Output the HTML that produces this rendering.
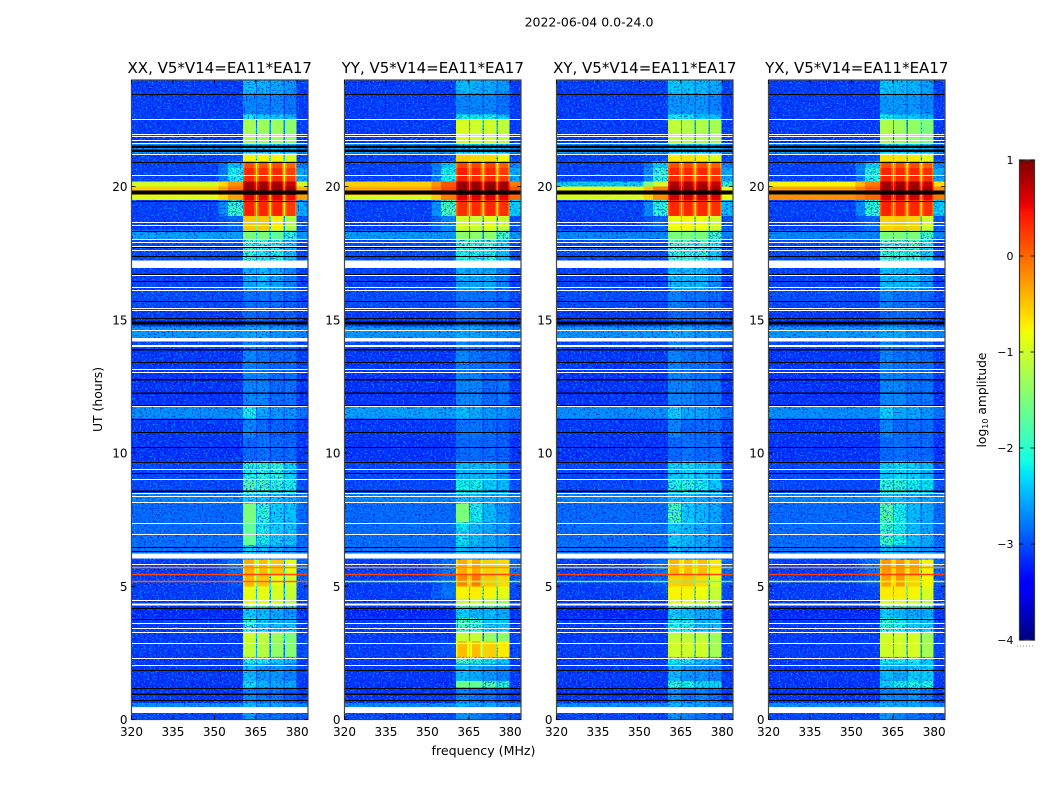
<!DOCTYPE html>
<html lang="en">
<head>
<meta charset="utf-8">
<title>2022-06-04 amplitude waterfall</title>
<style>
html,body{margin:0;padding:0;background:#fff;}
svg{display:block;}
text{font-family:"DejaVu Sans","Liberation Sans",sans-serif;fill:#000;}
</style>
</head>
<body>
<svg id="figure" xmlns="http://www.w3.org/2000/svg" width="1050" height="800" viewBox="0 0 1050 800">
  <defs>
    <filter id="speckle-light" x="0" y="0" width="1" height="1" color-interpolation-filters="sRGB">
      <feTurbulence type="fractalNoise" baseFrequency="0.5 0.62" numOctaves="2" seed="4"/>
      <feColorMatrix type="matrix" values="0 0 0 0 0  0 0 0 0 0.62  0 0 0 0 1  10 0 0 0 -5.5"/>
    </filter>
    <filter id="speckle-dark" x="0" y="0" width="1" height="1" color-interpolation-filters="sRGB">
      <feTurbulence type="fractalNoise" baseFrequency="0.5 0.62" numOctaves="2" seed="11"/>
      <feColorMatrix type="matrix" values="0 0 0 0 0  0 0 0 0 0  0 0 0 0 0.85  10 0 0 0 -5.7"/>
    </filter>
  </defs>
  <text x="589" y="26.5" text-anchor="middle" font-size="12.5">2022-06-04 0.0-24.0</text>
  <text x="483.5" y="755" text-anchor="middle" font-size="12.6">frequency (MHz)</text>
  <text transform="translate(102,399.5) rotate(-90)" text-anchor="middle" font-size="12.4">UT (hours)</text>
  <text transform="translate(986,400) rotate(-90)" text-anchor="middle" font-size="12.3">log<tspan font-size="8" dy="2">10</tspan><tspan dy="-2"> amplitude</tspan></text>
  <g id="panels"></g>
  <g id="colorbar"></g>
</svg>
<script>
// Time-row edges in UT hours, shared by all correlations
const rowEdges = [0,.46,.62,1.2,1.45,2.1,2.35,2.95,3.3,3.8,4.25,4.55,5,5.4,6,6.25,6.55,7.4,8.1,8.5,9,9.7,10.6,11.3,11.75,13,13.9,14.2,14.75,15.5,16.1,16.95,17.7,18,18.35,18.9,19.5,19.68,19.85,20,20.2,20.7,20.95,21.25,21.6,22.5,22.7,23.5,24];
// Frequency edges in MHz: background, shoulder ramp, four spectral windows (edge, centre, edge) with gaps, right edge
const freqEdges = [320,351.5,355,360.4,361,364.4,365,365.5,366.1,369.3,369.9,370.5,371.1,374.5,375.1,375.6,376.2,379.2,379.8,383.9];
// Each row: background, shoulder, window 1-4, right edge (log10 amplitude)
const xxLevels = [
[-2.9,-2.9,-2.3,-2.5,-2.5,-2.6,-2.8],[-2.35,-2.35,-2.1,-2.2,-2.2,-2.3,-2.4],[-3.05,-3.05,-2.4,-2.5,-2.5,-2.7,-3],[-3.1,-3.1,-1.95,-2.1,-2.2,-2.2,-3.1],
[-3.05,-3.05,-2.1,-2.3,-2.3,-2.4,-3],[-3,-3,-1.85,-1.9,-2,-2.1,-3],[-3,-3,-1.1,-1.15,-1.35,-1.45,-2.9],[-3,-3,-1,-1.1,-1.3,-1.5,-2.9],
[-3,-3,-1.8,-2,-2.1,-2.1,-3],[-3.2,-3.2,-2,-2.1,-2.2,-2.3,-3.1],[-3,-3,-.85,-.9,-1,-1.2,-3],[-3,-2.9,-.85,-.85,-.95,-1.05,-2.9],
[-3,-2.8,-.4,-.5,-.85,-1,-2.8],[-3,-2.5,-.35,-.45,-.5,-.85,-2.6],[-2.7,-2.7,-2.4,-2.4,-2.5,-2.5,-2.7],[-2.5,-2.5,-2,-2.1,-2.2,-2.3,-2.5],
[-2.55,-2.55,-1.6,-1.9,-2,-2.05,-2.6],[-2.6,-2.6,-1.5,-1.8,-2,-2.05,-2.6],[-2.4,-2.4,-2,-2.1,-2.1,-2.2,-2.4],[-2.9,-2.9,-1.65,-1.7,-1.8,-1.9,-2.8],
[-2.9,-2.9,-1.85,-1.8,-1.8,-2,-2.9],[-3.1,-3.1,-2.6,-2.5,-2.6,-2.6,-3.1],[-3.05,-3.05,-2.4,-2.6,-2.7,-2.7,-3],[-2.35,-2.35,-1.9,-2.2,-2.3,-2.3,-2.5],
[-3.1,-3.1,-2.4,-2.4,-2.6,-2.5,-3.1],[-3.05,-3.05,-2.4,-2.5,-2.6,-2.6,-3],[-2.9,-2.9,-2.4,-2.5,-2.6,-2.6,-2.9],[-2.3,-2.3,-2.2,-2.2,-2.3,-2.3,-2.4],
[-3,-3,-2.6,-2.6,-2.7,-2.7,-3],[-2.85,-2.85,-2.5,-2.5,-2.5,-2.6,-2.9],[-2.95,-2.95,-2.2,-2.1,-2.2,-2.4,-3],[-2.85,-2.85,-1.8,-1.9,-1.9,-2.1,-2.9],
[-2.85,-2.85,-1.8,-1.8,-1.8,-2,-2.9],[-2.25,-2.25,-1.5,-1.5,-1.6,-1.8,-2.3],[-3,-2.6,-.5,-.5,-.7,-1.2,-2.8],[-2.95,-1.75,.38,.36,.38,.25,-2.2],
[-.9,-.3,.55,.55,.55,.5,-.3],[-.7,-.2,.9,.9,.9,.85,-.4],[-.55,0,.9,.9,.9,.85,-.4],[-1,-.2,.85,.85,.85,.7,-1],
[-2.95,-1.9,.35,.33,.35,.22,-2.2],[-2.95,-2.1,.15,.12,.15,0,-2.5],[-2.95,-2.8,-.75,-.75,-.75,-.95,-2.9],[-2.3,-2.3,-2,-2,-2,-2.1,-2.4],
[-3,-3,-1.25,-1.3,-1.3,-1.4,-3],[-3,-3,-1.9,-2,-2,-2.1,-3],[-3,-3,-2.4,-2.4,-2.4,-2.5,-3],[-3,-3,-2.1,-2.15,-2.2,-2.3,-3]];
const yyLevels = [
[-2.9,-2.9,-2.3,-2.4,-2.5,-2.6,-2.8],[-2.35,-2.35,-2.1,-2.2,-2.2,-2.3,-2.4],[-3.05,-3.05,-2.4,-2.5,-2.5,-2.7,-3],[-3.1,-3.1,-1.55,-1.6,-1.65,-1.8,-3.1],
[-3.05,-3.05,-2.1,-2.2,-2.3,-2.4,-3],[-3,-3,-1.7,-1.8,-1.9,-2,-3],[-3,-2.8,-.45,-.45,-.55,-.7,-2.9],[-3,-3,-1.05,-1.05,-1.35,-1.4,-2.9],
[-3,-3,-1.7,-1.8,-2,-2,-3],[-3.2,-3.2,-2,-2.1,-2.1,-2.2,-3.1],[-3,-2.9,-1.1,-1.1,-1.2,-1.3,-3],[-3,-2.5,-.75,-.7,-.75,-.85,-2.9],
[-3,-2.6,-.15,-.1,-.5,-.6,-2.8],[-3,-2.5,-.35,-.35,-.55,-.6,-2.6],[-2.7,-2.7,-2.4,-2.4,-2.5,-2.5,-2.7],[-2.5,-2.5,-2.1,-2.2,-2.2,-2.3,-2.5],
[-2.55,-2.55,-1.95,-2.1,-2.2,-2.3,-2.6],[-2.6,-2.6,-1.5,-1.9,-2.1,-2.3,-2.6],[-2.4,-2.4,-2.1,-2.1,-2.2,-2.2,-2.4],[-2.9,-2.9,-1.9,-1.9,-2,-2.1,-2.8],
[-2.9,-2.9,-2.1,-2.1,-2.1,-2.3,-2.9],[-3.1,-3.1,-2.6,-2.6,-2.6,-2.7,-3.1],[-3.05,-3.05,-2.5,-2.5,-2.6,-2.7,-3],[-2.25,-2.25,-2.1,-2.2,-2.3,-2.3,-2.4],
[-3.1,-3.1,-2.4,-2.4,-2.6,-2.5,-3.1],[-3.05,-3.05,-2.4,-2.5,-2.6,-2.6,-3],[-2.9,-2.9,-2.4,-2.5,-2.6,-2.6,-2.9],[-2.3,-2.3,-2.2,-2.2,-2.3,-2.3,-2.4],
[-3,-3,-2.6,-2.6,-2.7,-2.7,-3],[-2.85,-2.85,-2.5,-2.5,-2.5,-2.6,-2.9],[-2.95,-2.95,-2.2,-2.2,-2.2,-2.4,-3],[-2.85,-2.85,-1.9,-1.9,-1.9,-2.1,-2.9],
[-2.85,-2.85,-1.8,-1.8,-1.8,-2,-2.9],[-2.3,-2.3,-1.4,-1.4,-1.4,-1.7,-2.3],[-3,-2.4,-1,-1.05,-.9,-1.05,-2.8],[-2.95,-1.7,.3,.33,.35,.3,-2],
[-.95,-.1,.6,.6,.6,.55,0],[-.3,.2,.95,.95,.95,.9,.1],[-.35,.2,.95,.95,.95,.9,.1],[-.55,.1,.9,.9,.9,.85,-.1],
[-2.95,-1.9,.4,.35,.35,.25,-2.2],[-2.95,-2,.2,.2,.2,.05,-2.4],[-2.95,-2.8,-.55,-.6,-.6,-.8,-2.9],[-2.3,-2.3,-2,-2,-2,-2.1,-2.4],
[-3,-3,-.95,-1,-1,-1.1,-3],[-3,-3,-1.9,-1.9,-1.9,-2,-3],[-3,-3,-2.4,-2.4,-2.4,-2.5,-3],[-3,-3,-2.1,-2.15,-2.2,-2.3,-3]];
const xyLevels = [
[-2.9,-2.9,-2.3,-2.4,-2.5,-2.6,-2.8],[-2.35,-2.35,-2.1,-2.2,-2.2,-2.3,-2.4],[-3.05,-3.05,-2.3,-2.5,-2.4,-2.5,-3],[-3.1,-3.1,-1.8,-1.9,-1.95,-1.95,-3.1],
[-3.05,-3.05,-2.1,-2.3,-2.3,-2.4,-3],[-3,-3,-1.9,-1.9,-2,-2.1,-3],[-3,-3,-1,-1,-1,-1.25,-2.9],[-3,-3,-1.1,-1.1,-1.1,-1.3,-2.9],
[-3,-3,-1.9,-1.9,-2.1,-2.1,-3],[-3.2,-3.2,-2,-2.1,-2.2,-2.2,-3.1],[-3,-3,-.9,-.9,-1,-1.15,-3],[-3,-2.9,-.75,-.75,-.8,-1.05,-2.9],
[-3,-2.7,-.55,-.5,-.6,-.9,-2.8],[-3,-2.5,-.4,-.45,-.45,-.7,-2.6],[-2.7,-2.7,-2.4,-2.4,-2.5,-2.5,-2.7],[-2.5,-2.5,-2.1,-2.2,-2.2,-2.3,-2.5],
[-2.55,-2.55,-2,-2.1,-2.2,-2.3,-2.6],[-2.6,-2.6,-1.7,-2,-2.1,-2.2,-2.6],[-2.4,-2.4,-2.1,-2.1,-2.2,-2.2,-2.4],[-2.9,-2.9,-1.85,-1.8,-1.9,-2,-2.8],
[-2.9,-2.9,-2,-1.95,-2,-2.1,-2.9],[-3.1,-3.1,-2.6,-2.5,-2.6,-2.6,-3.1],[-3.05,-3.05,-2.4,-2.6,-2.6,-2.6,-3],[-2.35,-2.35,-2,-2.2,-2.2,-2.3,-2.5],
[-3.1,-3.1,-2.4,-2.4,-2.5,-2.5,-3.1],[-3.05,-3.05,-2.4,-2.5,-2.5,-2.6,-3],[-2.9,-2.9,-2.4,-2.5,-2.5,-2.6,-2.9],[-2.3,-2.3,-2.2,-2.2,-2.3,-2.3,-2.4],
[-3,-3,-2.6,-2.6,-2.6,-2.7,-3],[-2.85,-2.85,-2.4,-2.5,-2.5,-2.6,-2.9],[-2.95,-2.95,-2.1,-2.1,-2.1,-2.3,-3],[-2.85,-2.85,-1.8,-1.8,-1.8,-2,-2.9],
[-2.85,-2.85,-1.7,-1.7,-1.7,-1.9,-2.9],[-2.4,-2.4,-1.5,-1.5,-1.5,-1.7,-2.4],[-3,-2.6,-.8,-.75,-.8,-1,-2.8],[-2.95,-1.8,.35,.35,.35,.3,-2.1],
[-.95,-.2,.65,.65,.65,.6,-.8],[-.85,-.1,.9,.9,.9,.85,-.8],[-.85,-.1,.9,.9,.9,.85,-.8],[-2,-1,.8,.8,.8,.7,-1.8],
[-2.95,-1.8,.35,.35,.35,.3,-2.2],[-2.95,-2,.15,.15,.15,.05,-2.4],[-2.95,-2.8,-.7,-.65,-.7,-.9,-2.9],[-2.3,-2.3,-2,-2,-2,-2.1,-2.4],
[-3,-3,-1.1,-1.15,-1.2,-1.25,-3],[-3,-3,-1.9,-1.9,-2,-2,-3],[-3,-3,-2.3,-2.3,-2.3,-2.4,-3],[-3,-3,-2,-2.05,-2.1,-2.2,-3]];
const yxLevels = [
[-2.9,-2.9,-2.3,-2.4,-2.5,-2.6,-2.8],[-2.35,-2.35,-2.1,-2.2,-2.2,-2.3,-2.4],[-3.05,-3.05,-2.4,-2.4,-2.3,-2.5,-3],[-3.1,-3.1,-2,-1.9,-1.85,-1.85,-3.1],
[-3.05,-3.05,-2.1,-2.2,-2,-2,-3],[-3,-3,-1.9,-1.9,-1.9,-2,-3],[-3,-3,-1,-1,-.95,-1.25,-2.9],[-3,-3,-1,-1,-.95,-1.3,-2.9],
[-3,-3,-1.8,-1.9,-2,-2,-3],[-3.2,-3.2,-2,-2.1,-2.2,-2.2,-3.1],[-3,-3,-.95,-.95,-1,-1.15,-3],[-3,-2.9,-.7,-.7,-.75,-.95,-2.9],
[-3,-2.7,-.3,-.25,-.55,-.75,-2.8],[-3,-2.5,-.25,-.25,-.35,-.75,-2.6],[-2.7,-2.7,-2.4,-2.4,-2.5,-2.5,-2.7],[-2.5,-2.5,-2.1,-2.2,-2.2,-2.3,-2.5],
[-2.55,-2.55,-1.75,-1.9,-2.1,-2.2,-2.6],[-2.6,-2.6,-1.65,-1.9,-2.1,-2.2,-2.6],[-2.4,-2.4,-2.1,-2.1,-2.2,-2.2,-2.4],[-2.9,-2.9,-1.8,-1.8,-1.9,-1.95,-2.8],
[-2.9,-2.9,-2,-1.95,-2,-2.1,-2.9],[-3.1,-3.1,-2.6,-2.5,-2.6,-2.6,-3.1],[-3.05,-3.05,-2.4,-2.6,-2.6,-2.6,-3],[-2.35,-2.35,-2,-2.2,-2.2,-2.3,-2.5],
[-3.1,-3.1,-2.4,-2.4,-2.5,-2.5,-3.1],[-3.05,-3.05,-2.4,-2.5,-2.5,-2.6,-3],[-2.9,-2.9,-2.4,-2.5,-2.5,-2.6,-2.9],[-2.3,-2.3,-2.2,-2.2,-2.3,-2.3,-2.4],
[-3,-3,-2.6,-2.6,-2.6,-2.7,-3],[-2.85,-2.85,-2.4,-2.5,-2.5,-2.6,-2.9],[-2.95,-2.95,-2.1,-2.1,-2.1,-2.3,-3],[-2.85,-2.85,-1.8,-1.8,-1.8,-2,-2.9],
[-2.85,-2.85,-1.7,-1.7,-1.7,-1.9,-2.9],[-2.4,-2.4,-1.5,-1.5,-1.5,-1.7,-2.4],[-3,-2.6,-.55,-.5,-.55,-1,-2.8],[-2.95,-1.8,.38,.35,.35,.3,-2],
[-.2,0,.65,.65,.65,.55,-.1],[-.3,.1,.9,.9,.9,.85,-.2],[-.3,.1,.9,.9,.9,.85,-.2],[-.75,-.1,.85,.85,.85,.7,-.6],
[-2.95,-1.85,.38,.35,.35,.3,-2.2],[-2.95,-2,.15,.15,.15,.05,-2.4],[-2.95,-2.8,-.65,-.65,-.7,-.9,-2.9],[-2.3,-2.3,-2,-2,-2,-2.1,-2.4],
[-3,-3,-1.2,-1.3,-1.35,-1.5,-3],[-3,-3,-1.9,-2,-2,-2.1,-3],[-3,-3,-2.3,-2.3,-2.3,-2.4,-3],[-3,-3,-2.05,-2.1,-2.15,-2.25,-3]];
// Interference lines (UT hours) and their per-correlation levels
const rfiHours = [5.73,5.47,5.2];
const xxRfi = [-.15,.2,.05];
const yyRfi = [-.2,.2,-1.3];
const xyRfi = [-.5,.2,-1.7];
const yxRfi = [-.2,.25,-.9];
// Flagged (no data) rows, in UT hours
const whiteLineHours = [22.53,21.98,21.88,21.75,21.63,21.21,20.44,18.66,18.57,18.04,17.92,17.76,17.62,16.7,16.22,16.13,15.43,15.35,14.63,14.07,14,13.16,13.06,11.76,9.41,9.03,8.49,8.37,8.15,7.38,6.97,5.84,4.48,3.61,3.43,3.28,2.88,2.32,2.05];
const whiteBlockSpans = [[16.95,17.22],[14.18,14.32],[6.04,6.23],[4.27,4.36],[.25,.46]];
const blackLineHours = [23.48,20.94,19.47,18.32,17.72,17.41,16.72,16.44,15.7,15.07,13.41,11.82,11.28,10.79,10.24,9.68,9.26,6.47,6.34,4.19,3.76,1.85,1.17,.74];
const blackBlockSpans = [[21.45,21.54],[21.29,21.39],[19.7,19.85],[14.82,14.93],[13.85,13.91],[12.72,12.78],[12.21,12.27],[8.54,8.6],[.92,.98]];
// Axis ticks
const xTicks = [320,335,350,365,380];
const yTicks = [0,5,10,15,20];
const colorbarTicks = [-4,-3,-2,-1,0,1];
// Panels
const panelTitles = ['XX, V5*V14=EA11*EA17','YY, V5*V14=EA11*EA17','XY, V5*V14=EA11*EA17','YX, V5*V14=EA11*EA17'];
const panelNames = ['xx','yy','xy','yx'];
const panelLevels = [xxLevels,yyLevels,xyLevels,yxLevels];
const panelRfi = [xxRfi,yyRfi,xyRfi,yxRfi];
const panelLefts = [131.5,344.5,556.5,768.5];

const PLOT_W = 176.5, PLOT_TOP = 80, PLOT_BOTTOM = 719.5;
const NS = 'http://www.w3.org/2000/svg';
const F_MIN = 320, F_MAX = 383.9, H_MIN = 0, H_MAX = 24;
const LEVEL_MIN = -4, LEVEL_MAX = 1;

function make(tag, attrs, parent){
  const el = document.createElementNS(NS, tag);
  for (const k in attrs) el.setAttribute(k, attrs[k]);
  parent.appendChild(el);
  return el;
}
function xScale(left, f){ return left + (f - F_MIN) / (F_MAX - F_MIN) * PLOT_W; }
function yScale(h){ return PLOT_BOTTOM - (h - H_MIN) / (H_MAX - H_MIN) * (PLOT_BOTTOM - PLOT_TOP); }
function clamp01(v){ return Math.max(0, Math.min(1, v)); }
function jet(t){
  const r = t < .35 ? 0 : t < .66 ? (t - .35) / .31 : t < .89 ? 1 : 1 - (t - .89) / .11 * .5;
  const g = t < .125 ? 0 : t < .375 ? (t - .125) / .25 : t < .64 ? 1 : t < .91 ? 1 - (t - .64) / .27 : 0;
  const b = t < .11 ? .5 + t / .11 * .5 : t < .34 ? 1 : t < .65 ? 1 - (t - .34) / .31 : 0;
  return 'rgb(' + Math.round(clamp01(r) * 255) + ',' + Math.round(clamp01(g) * 255) + ',' + Math.round(clamp01(b) * 255) + ')';
}
function levelColor(v){ return jet(clamp01((v - LEVEL_MIN) / (LEVEL_MAX - LEVEL_MIN))); }
// The speckle texture brightens faint cells, so faint levels are compressed before colouring
function faintAdjust(v){
  if (v >= -1.5) return v;
  if (v >= -2) return -1.5 + (v + 1.5) * 1.6;
  if (v >= -2.5) return -2.3 + (v + 2);
  if (v >= -3) return -2.8 + (v + 2.5) * .6;
  return -3.1 + (v + 3) * .5;
}
function edgeOf(v){ return v > -.5 ? v - .35 : v; }
function gapOf(a, b){ const m = Math.min(a, b); return m > -1.5 ? m - 1 : m - .35; }
function rowToColumns(r){
  const cols = [r[0], (r[0] + r[1]) / 2, r[1]];
  for (let w = 2; w <= 5; w++){
    cols.push(edgeOf(r[w]), r[w], edgeOf(r[w]));
    if (w < 5) cols.push(gapOf(r[w], r[w + 1]));
  }
  cols.push(r[6]);
  return cols.map(faintAdjust);
}

const panelsRoot = document.getElementById('panels');
panelLevels.forEach(function(levels, p){
  const left = panelLefts[p];
  const name = panelNames[p];
  const g = make('g', {}, panelsRoot);
  
  

  const clip = make('clipPath', {id: 'low-level-' + name}, g);
  const cells = make('g', {'shape-rendering': 'crispEdges'}, g);
  
  
  levels.forEach(function(row, i){
    const cols = rowToColumns(row);
    const yTop = yScale(rowEdges[i + 1]);
    const yBot = yScale(rowEdges[i]);
    cols.forEach(function(v, c){
      const x0 = xScale(left, freqEdges[c]);
      const x1 = xScale(left, freqEdges[c + 1]);
      const cell = make('rect', {x: x0, y: yTop, width: x1 - x0, height: yBot - yTop, fill: levelColor(v)}, cells);
      
      
      if (v < -1.7) make('rect', {x: x0, y: yTop, width: x1 - x0, height: yBot - yTop}, clip);
    });
  });

  const noise = make('g', {'clip-path': 'url(#low-level-' + name + ')'}, g);
  
  
  make('rect', {x: left - 20, y: PLOT_TOP - 20, width: PLOT_W + 40, height: PLOT_BOTTOM - PLOT_TOP + 40, fill: '#000', filter: 'url(#speckle-light)', opacity: .7, transform: 'translate(' + (p * 7) + ',' + (p * 5) + ')'}, noise);
  make('rect', {x: left - 20, y: PLOT_TOP - 20, width: PLOT_W + 40, height: PLOT_BOTTOM - PLOT_TOP + 40, fill: '#000', filter: 'url(#speckle-dark)', opacity: .6, transform: 'translate(' + (-p * 5) + ',' + (p * 3) + ')'}, noise);

  rfiHours.forEach(function(h, i){
    const line = make('rect', {x: left, y: Math.round(yScale(h)) - .25, width: PLOT_W, height: 1.5, fill: levelColor(panelRfi[p][i])}, g);
    
    
  });

  const flags = make('g', {'shape-rendering': 'crispEdges'}, g);
  
  
  whiteBlockSpans.forEach(function(s){
    const block = make('rect', {x: left, y: yScale(s[1]), width: PLOT_W, height: yScale(s[0]) - yScale(s[1]), fill: '#fff'}, flags);
    
    
  });
  whiteLineHours.forEach(function(h){
    const line = make('rect', {x: left, y: Math.round(yScale(h)), width: PLOT_W, height: 1, fill: '#fff'}, flags);
    
    
  });
  blackBlockSpans.forEach(function(s){
    const block = make('rect', {x: left, y: yScale(s[1]), width: PLOT_W, height: yScale(s[0]) - yScale(s[1]), fill: '#000'}, flags);
    
    
  });
  blackLineHours.forEach(function(h){
    const line = make('rect', {x: left, y: Math.round(yScale(h)), width: PLOT_W, height: 1, fill: '#000'}, flags);
    
    
  });

  const frame = make('rect', {x: left, y: PLOT_TOP, width: PLOT_W, height: PLOT_BOTTOM - PLOT_TOP, fill: 'none', stroke: '#444', 'stroke-width': 1.2}, g);
  
  

  xTicks.forEach(function(f){
    const x = xScale(left, f);
    const t1 = make('line', {x1: x, x2: x, y1: PLOT_BOTTOM, y2: PLOT_BOTTOM - 4, stroke: '#000', 'stroke-width': .8}, g);
    
    
    const t2 = make('line', {x1: x, x2: x, y1: PLOT_TOP, y2: PLOT_TOP + 4, stroke: '#000', 'stroke-width': .8}, g);
    
    
    const lab = make('text', {x: x, y: 736, 'text-anchor': 'middle', 'font-size': 12}, g);
    
    
    lab.textContent = String(f);
  });
  yTicks.forEach(function(h){
    const y = yScale(h);
    const t1 = make('line', {x1: left, x2: left + 4, y1: y, y2: y, stroke: '#000', 'stroke-width': .8}, g);
    
    
    const t2 = make('line', {x1: left + PLOT_W, x2: left + PLOT_W - 4, y1: y, y2: y, stroke: '#000', 'stroke-width': .8}, g);
    
    
    const lab = make('text', {x: left - 4, y: y + 4.5, 'text-anchor': 'end', 'font-size': 12}, g);
    
    
    lab.textContent = String(h);
  });
  const title = make('text', {x: left + PLOT_W / 2, y: 73, 'text-anchor': 'middle', 'font-size': 15}, g);
  
  
  title.textContent = panelTitles[p];
});

// Colorbar
const cbRoot = document.getElementById('colorbar');
const CB_X = 1019.5, CB_W = 15, CB_TOP = 160, CB_BOTTOM = 640;
function cbY(v){ return CB_BOTTOM - (v - LEVEL_MIN) / (LEVEL_MAX - LEVEL_MIN) * (CB_BOTTOM - CB_TOP); }
const cbSteps = make('g', {'shape-rendering': 'crispEdges'}, cbRoot);


for (let i = 0; i < 160; i++){
  const v0 = LEVEL_MIN + i / 160 * (LEVEL_MAX - LEVEL_MIN);
  const v1 = LEVEL_MIN + (i + 1) / 160 * (LEVEL_MAX - LEVEL_MIN);
  make('rect', {x: CB_X, y: cbY(v1), width: CB_W, height: cbY(v0) - cbY(v1) + .5, fill: levelColor((v0 + v1) / 2)}, cbSteps);
}
const cbFrame = make('rect', {x: CB_X, y: CB_TOP, width: CB_W, height: CB_BOTTOM - CB_TOP, fill: 'none', stroke: '#333', 'stroke-width': 1.2}, cbRoot);


colorbarTicks.forEach(function(v){
  const y = cbY(v);
  const a = make('line', {x1: CB_X, x2: CB_X + 4, y1: y, y2: y, stroke: '#000', 'stroke-width': .8}, cbRoot);
  
  
  const b = make('line', {x1: CB_X + CB_W, x2: CB_X + CB_W - 4, y1: y, y2: y, stroke: '#000', 'stroke-width': .8}, cbRoot);
  
  
  const lab = make('text', {x: CB_X - 6, y: y + 4, 'text-anchor': 'end', 'font-size': 11}, cbRoot);
  
  
  lab.textContent = String(v).replace('-', '\u2212');
});
const dots = make('line', {x1: 1017, x2: 1035, y1: 646, y2: 646, stroke: '#888', 'stroke-width': 1, 'stroke-dasharray': '1 2'}, cbRoot);


</script>
</body>
</html>
